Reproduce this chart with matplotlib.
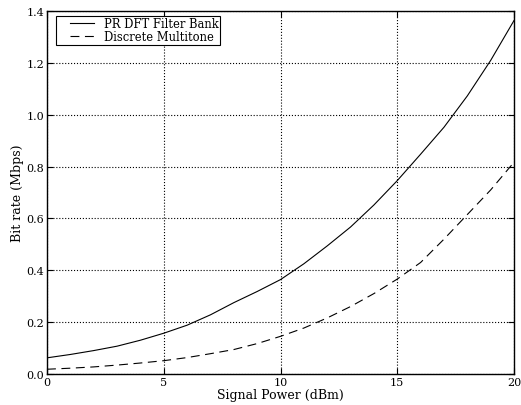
import numpy as np
import matplotlib
matplotlib.use('Agg')
import matplotlib.pyplot as plt
from matplotlib.legend_handler import HandlerLine2D
from matplotlib.lines import Line2D

plt.rcParams['font.family'] = 'DejaVu Serif'
plt.rcParams['font.size'] = 8

power_dbm = [0, 1, 2, 3, 4, 5, 6, 7, 8, 9, 10, 11, 12, 13, 14, 15, 16, 17, 18, 19, 20]
pr_dft = [0.062, 0.075, 0.090, 0.107, 0.130, 0.157, 0.188, 0.228, 0.275, 0.318, 0.364,
          0.425, 0.494, 0.567, 0.652, 0.746, 0.848, 0.952, 1.073, 1.21, 1.364]
dmt = [0.018, 0.022, 0.027, 0.034, 0.042, 0.051, 0.063, 0.078, 0.094, 0.117, 0.145,
       0.177, 0.216, 0.26, 0.31, 0.366, 0.43, 0.52, 0.615, 0.71, 0.817]
x_ticks = [0, 5, 10, 15, 20]
y_ticks = [0.0, 0.2, 0.4, 0.6, 0.8, 1.0, 1.2, 1.4]

fig = plt.figure(figsize=(5.21, 4.06), dpi=100)
ax = fig.add_axes([0.0902, 0.0766, 0.8964, 0.8934])

ax.plot(power_dbm, pr_dft, '-', color='black', linewidth=0.8, label='PR DFT Filter Bank')
ax.plot(power_dbm, dmt, '--', color='black', linewidth=0.8, dashes=(8, 5), label='Discrete Multitone')

ax.set_xlim(0, 20)
ax.set_ylim(0, 1.4)
ax.set_xticks(x_ticks)
ax.set_yticks(y_ticks)
ax.set_yticklabels(['%.1f' % v for v in y_ticks])
ax.tick_params(direction='in', length=4, width=0.8, top=True, right=True, pad=2)
ax.grid(True, linestyle=':', color='black', linewidth=0.8)
for s in ax.spines.values():
    s.set_linewidth(1.0)

ax.set_xlabel('Signal Power (dBm)', fontsize=9, labelpad=1)
ax.set_ylabel('Bit rate (Mbps)', fontsize=9, labelpad=2)

# legend box sits a little in from the axes corner, handles indented, rows tight
leg = ax.legend(loc='upper left', bbox_to_anchor=(0.0186, 0.986), borderaxespad=0,
                fancybox=False, framealpha=1, edgecolor='black',
                handlelength=3.21, borderpad=0.1, labelspacing=0.0,
                handletextpad=0.87, fontsize=8.3,
                handler_map={Line2D: HandlerLine2D(xpad=1.17)})
leg.get_frame().set_linewidth(0.8)

plt.savefig('out.png', dpi=100)
